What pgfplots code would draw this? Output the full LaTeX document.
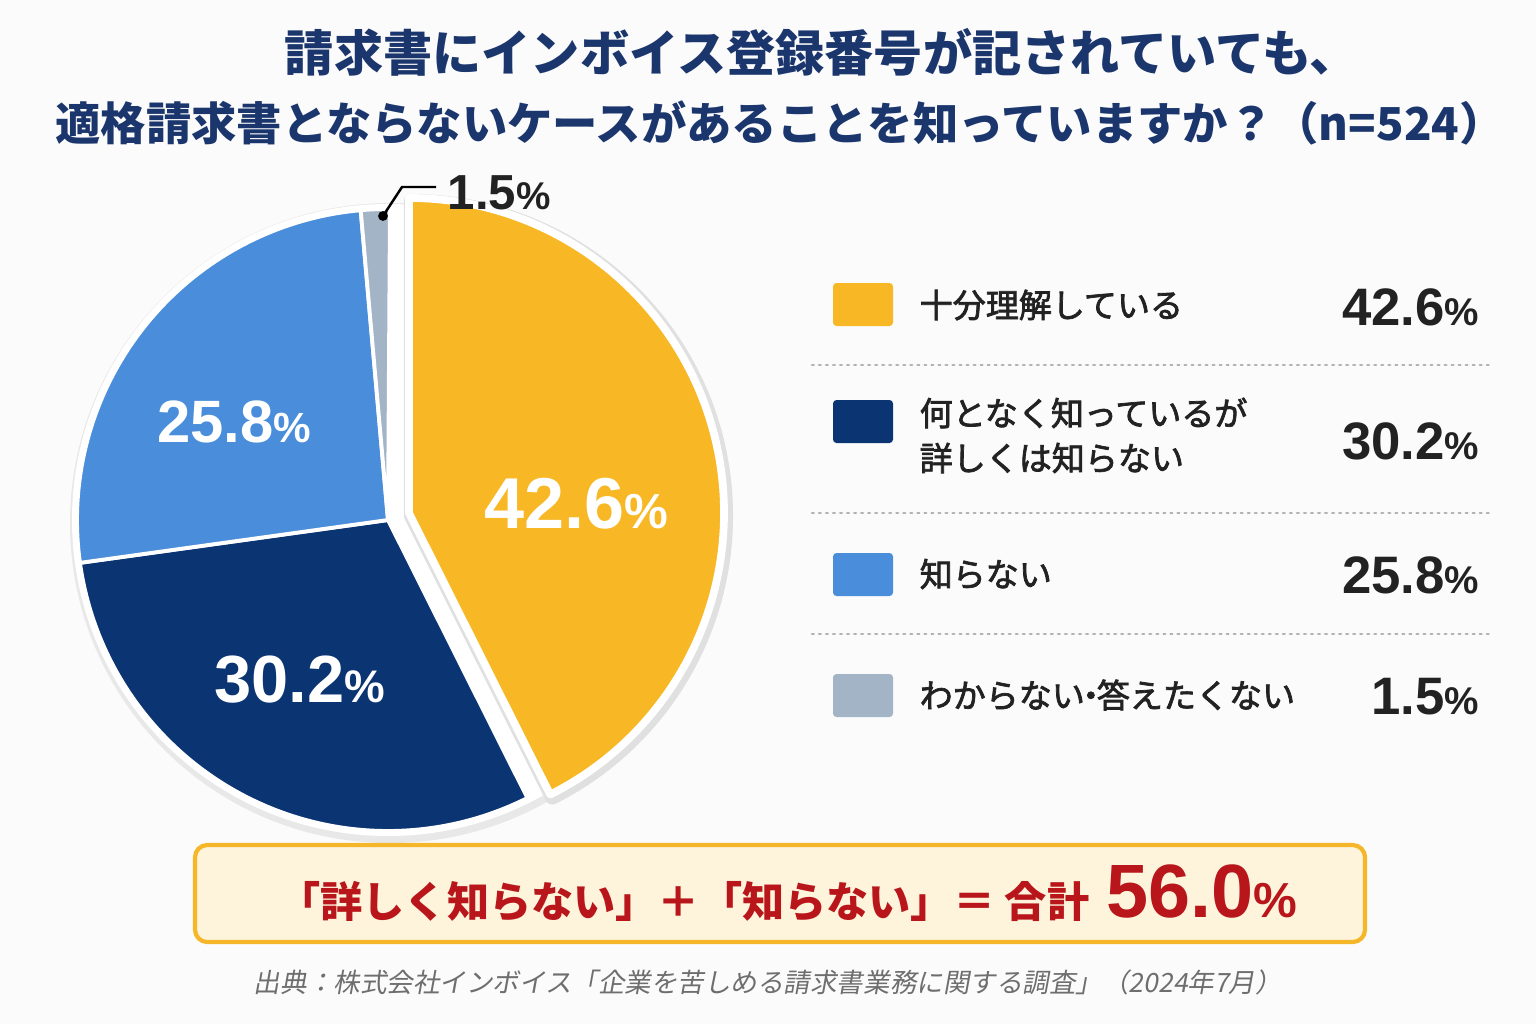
\documentclass[border=0pt]{standalone}
\usepackage{pgfplots}
\pgfplotsset{compat=1.18}
\usepackage{fontspec}
\setmainfont{Liberation Sans}
\newfontfamily\jp{Noto Sans CJK JP}
\newfontfamily\jpm[FakeBold=2.2]{Noto Sans CJK JP}
\newfontfamily\jpit[FakeSlant=0.18]{Noto Sans CJK JP}
\definecolor{bg}{HTML}{FBFBFC}
\definecolor{cYel}{HTML}{F8B825}
\definecolor{cDark}{HTML}{0B3473}
\definecolor{cLight}{HTML}{4A8EDB}
\definecolor{cGrey}{HTML}{A3B4C6}
\definecolor{navy}{HTML}{1B366C}
\definecolor{txt}{HTML}{222222}
\definecolor{red}{HTML}{B8161B}
\definecolor{boxfill}{HTML}{FEF4DC}
\definecolor{boxline}{HTML}{F6B629}
\definecolor{srcgrey}{HTML}{6E6E6E}
\newcommand\fs[1]{\fontsize{#1}{#1}\selectfont}
\newcommand\num[3]{{\fs{#1}\bfseries #3{\fs{#2}\%}}}
\tikzset{sep/.style={black!30, line width=0.7pt, dash pattern=on 0.5pt off 1.5pt, line cap=round}}
\begin{document}
\begin{tikzpicture}
\begin{axis}[scale only axis, width=15.36cm, height=10.24cm,
  xmin=0, xmax=1536, ymin=0, ymax=1024, y dir=reverse,
  hide axis, clip=false]
% background
\fill[bg] (axis cs:0,0) rectangle (axis cs:1536,1024);
% title
\node[navy, font=\jp\bfseries\fs{14pt}] at (axis cs:822,52) {請求書にインボイス登録番号が記されていても、};
\node[navy, font=\jp\bfseries\fs{12.9pt}] at (axis cs:780,123) {適格請求書とならないケースがあることを知っていますか？（n=524）};
% pie shadow and white ring
\fill[black!9] (axis cs:390,523) circle[radius=3.20cm];
\fill[white] (axis cs:388,520) circle[radius=3.16cm];
% slices (values 42.6, 30.2, 25.8, 1.5 %; clockwise from top)
\filldraw[cDark, draw=white, line width=1.1pt] (axis cs:388,520) -- ++({90-42.6*3.6}:3.11cm)
   arc[start angle={90-42.6*3.6}, end angle={90-(42.6+30.2)*3.6}, radius=3.11cm] -- cycle;
\filldraw[cLight, draw=white, line width=1.1pt] (axis cs:388,520) -- ++({90-(42.6+30.2)*3.6}:3.11cm)
   arc[start angle={90-(42.6+30.2)*3.6}, end angle={90-(42.6+30.2+25.8)*3.6}, radius=3.11cm] -- cycle;
\filldraw[cGrey, draw=white, line width=1.1pt] (axis cs:388,520) -- ++({90-(42.6+30.2+25.8)*3.6}:3.11cm)
   arc[start angle={90-(42.6+30.2+25.8)*3.6}, end angle={90-(42.6+30.2+25.8+1.5)*3.6}, radius=3.11cm] -- cycle;
% exploded yellow slice
\draw[black!12, line width=4pt, line join=round] (axis cs:411,516) -- ++(90:3.15cm)
   arc[start angle=90, end angle={90-42.6*3.6}, radius=3.15cm] -- cycle;
\filldraw[cYel, draw=white, line width=2.2pt, line join=round] (axis cs:409,513) -- ++(90:3.15cm)
   arc[start angle=90, end angle={90-42.6*3.6}, radius=3.15cm] -- cycle;
% slice labels
\node[white, anchor=base] at (axis cs:576,528) {\num{20.5pt}{14pt}{42.6}};
\node[white, anchor=base] at (axis cs:234,442) {\num{17pt}{12pt}{25.8}};
\node[white, anchor=base] at (axis cs:300,702) {\num{19pt}{13pt}{30.2}};
% callout for 1.5%
\draw[black, line width=0.7pt] (axis cs:383,216) -- (axis cs:402,187) -- (axis cs:436,187);
\fill[black] (axis cs:383,216) circle[radius=1.4pt];
\node[txt, anchor=base west, inner sep=0pt] at (axis cs:447,209) {\num{14pt}{11pt}{1.5}};
% legend
\fill[cYel, rounded corners=1pt] (axis cs:833,283) rectangle (axis cs:893,326);
\fill[cDark, rounded corners=1pt] (axis cs:833,400) rectangle (axis cs:893,443);
\fill[cLight, rounded corners=1pt] (axis cs:833,553) rectangle (axis cs:893,596);
\fill[cGrey, rounded corners=1pt] (axis cs:833,674) rectangle (axis cs:893,717);
\node[txt, anchor=west, inner sep=0pt, font=\jpm\fs{9.4pt}] at (axis cs:919,305) {十分理解している};
\node[txt, anchor=west, inner sep=0pt, font=\jpm\fs{9.4pt}] at (axis cs:919,413) {何となく知っているが};
\node[txt, anchor=west, inner sep=0pt, font=\jpm\fs{9.4pt}] at (axis cs:919,458) {詳しくは知らない};
\node[txt, anchor=west, inner sep=0pt, font=\jpm\fs{9.4pt}] at (axis cs:919,574) {知らない};
\node[txt, anchor=west, inner sep=0pt, font=\jpm\fs{9.4pt}] at (axis cs:919,695) {わからない{\kern-3pt}・{\kern-3pt}答えたくない};
\node[txt, anchor=base east, inner sep=0pt] at (axis cs:1480,325) {\num{15pt}{11pt}{42.6}};
\node[txt, anchor=base east, inner sep=0pt] at (axis cs:1480,459) {\num{15pt}{11pt}{30.2}};
\node[txt, anchor=base east, inner sep=0pt] at (axis cs:1480,593) {\num{15pt}{11pt}{25.8}};
\node[txt, anchor=base east, inner sep=0pt] at (axis cs:1480,714) {\num{15pt}{11pt}{1.5}};
\draw[sep] (axis cs:812,365) -- (axis cs:1492,365);
\draw[sep] (axis cs:812,513) -- (axis cs:1492,513);
\draw[sep] (axis cs:812,634) -- (axis cs:1492,634);
% summary box
\filldraw[fill=boxfill, draw=boxline, line width=1.2pt, rounded corners=3.5pt] (axis cs:195,845) rectangle (axis cs:1365,942);
\node[red, anchor=base, inner sep=0pt] at (axis cs:788,917) {{\jp\bfseries\fs{12pt}「詳しく知らない」＋「知らない」＝ 合計}\hspace{5pt}\num{21.5pt}{14pt}{56.0}};
% source
\node[srcgrey, font=\jpit\fs{7.55pt}] at (axis cs:768,982) {出典：株式会社インボイス「企業を苦しめる請求書業務に関する調査」（2024年7月）};
\end{axis}
\end{tikzpicture}
\end{document}
